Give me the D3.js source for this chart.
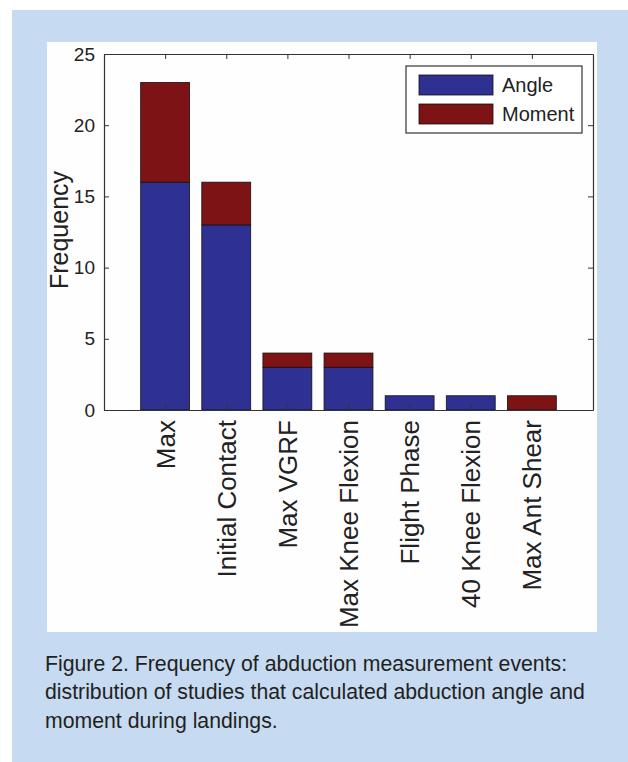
<!DOCTYPE html>
<html>
<head>
<meta charset="utf-8">
<script src="https://cdn.jsdelivr.net/npm/d3@7"></script>
<style>
  html, body { margin: 0; padding: 0; background: #fff; }
  svg { display: block; }
</style>
</head>
<body>
<svg id="chart" width="628" height="762"></svg>
<script>
  // data
  const categories = ["Max", "Initial Contact", "Max VGRF", "Max Knee Flexion", "Flight Phase", "40 Knee Flexion", "Max Ant Shear"];
  const angleValues = [16, 13, 3, 3, 1, 1, 0];
  const momentValues = [7, 3, 1, 1, 0, 0, 1];
  const seriesNames = ["Angle", "Moment"];
  const yTicks = [0, 5, 10, 15, 20, 25];
  const captionLines = [
    "Figure 2. Frequency of abduction measurement events:",
    "distribution of studies that calculated abduction angle and",
    "moment during landings."
  ];

  const BLUE = "#2e3192";
  const RED = "#7d1315";
  const colors = [BLUE, RED];
  const FONT = "'Liberation Sans', Arial, Helvetica, sans-serif";

  const svg = d3.select("#chart");

  // light blue frame and white plot panel
  svg.append("rect").attr("x", 12).attr("y", 10).attr("width", 616).attr("height", 752).attr("fill", "#c6daf1");
  svg.append("rect").attr("x", 47).attr("y", 42).attr("width", 550).attr("height", 590).attr("fill", "#fefefe");

  const plot = { left: 104, right: 593, top: 54, bottom: 410 };

  const x = d3.scaleLinear().domain([0, 8]).range([plot.left, plot.right]);
  const y = d3.scaleLinear().domain([0, 25]).range([plot.bottom, plot.top]);
  const barW = (x(1) - x(0)) * 0.8;

  const rows = categories.map((c, i) => ({ cat: c, i: i + 1, Angle: angleValues[i], Moment: momentValues[i] }));
  const stacked = d3.stack().keys(seriesNames)(rows);

  const g = svg.append("g");

  stacked.forEach((layer, k) => {
    g.append("g").selectAll("rect")
      .data(layer.filter((d) => d[1] > d[0]))
      .join("rect")
      .attr("x", (d) => x(d.data.i) - barW / 2)
      .attr("width", barW)
      .attr("y", (d) => y(d[1]))
      .attr("height", (d) => y(d[0]) - y(d[1]))
      .attr("fill", colors[k])
      .attr("stroke", "#111")
      .attr("stroke-width", 0.8);
  });

  // box with inward ticks, matlab style
  const tickLen = 5;
  const axisColor = "#333";
  const axLeft = g.append("g").attr("transform", `translate(${plot.left},0)`)
    .call(d3.axisLeft(y).tickValues(yTicks).tickSizeInner(-tickLen).tickSizeOuter(0).tickPadding(9));
  const axRight = g.append("g").attr("transform", `translate(${plot.right},0)`)
    .call(d3.axisRight(y).tickValues(yTicks).tickSizeInner(-tickLen).tickSizeOuter(0).tickFormat(""));
  const axTop = g.append("g").attr("transform", `translate(0,${plot.top})`)
    .call(d3.axisTop(x).tickValues(d3.range(1, 8)).tickSizeInner(-tickLen).tickSizeOuter(0).tickFormat(""));
  const axBottom = g.append("g").attr("transform", `translate(0,${plot.bottom})`)
    .call(d3.axisBottom(x).tickValues(d3.range(1, 8)).tickSizeInner(-tickLen).tickSizeOuter(0).tickFormat((d) => categories[d - 1]));

  [axLeft, axRight, axTop, axBottom].forEach((a) => {
    a.selectAll("path.domain").attr("stroke", axisColor).attr("stroke-width", 1.2);
    a.selectAll(".tick line").attr("stroke", axisColor);
  });

  axLeft.selectAll("text")
    .attr("font-family", FONT)
    .attr("font-size", 19)
    .attr("fill", "#222");

  axBottom.selectAll(".tick text")
    .attr("font-family", FONT)
    .attr("font-size", 26)
    .attr("fill", "#222")
    .attr("text-anchor", "end")
    .attr("transform", "rotate(-90)")
    .attr("x", -10)
    .attr("y", 0)
    .attr("dy", "0.35em");

  svg.append("text")
    .attr("transform", `translate(68,${(plot.top + plot.bottom) / 2 - 2}) rotate(-90)`)
    .attr("text-anchor", "middle")
    .attr("font-family", FONT)
    .attr("font-size", 25)
    .attr("fill", "#222")
    .text("Frequency");

  // legend
  const lg = svg.append("g");
  lg.append("rect").attr("x", 406).attr("y", 66).attr("width", 176).attr("height", 67)
    .attr("fill", "#fff").attr("stroke", axisColor).attr("stroke-width", 1.2);
  seriesNames.forEach((name, k) => {
    const yy = 75 + k * 29;
    lg.append("rect").attr("x", 419).attr("y", yy).attr("width", 74).attr("height", 20)
      .attr("fill", colors[k]).attr("stroke", "#111").attr("stroke-width", 0.8);
    lg.append("text").attr("x", 502).attr("y", yy + 10).attr("dy", "0.36em")
      .attr("font-family", FONT)
      .attr("font-size", 20)
      .attr("fill", "#222")
      .text(name);
  });

  // caption: arial squeezed to the printed width (condensed grotesque look)
  const cap = svg.append("g");
  const capText = cap.selectAll("text")
    .data(captionLines)
    .join("text")
    .attr("x", 0)
    .attr("y", (d, i) => 671 + i * 28.5)
    .attr("font-family", FONT)
    .attr("font-size", 22)
    .attr("fill", "#231f20")
    .text((d) => d);
  const w2 = capText.nodes()[1].getComputedTextLength();
  const sx = 540 / w2;
  cap.attr("transform", `translate(45,0) scale(${sx},1)`);
</script>
</body>
</html>
